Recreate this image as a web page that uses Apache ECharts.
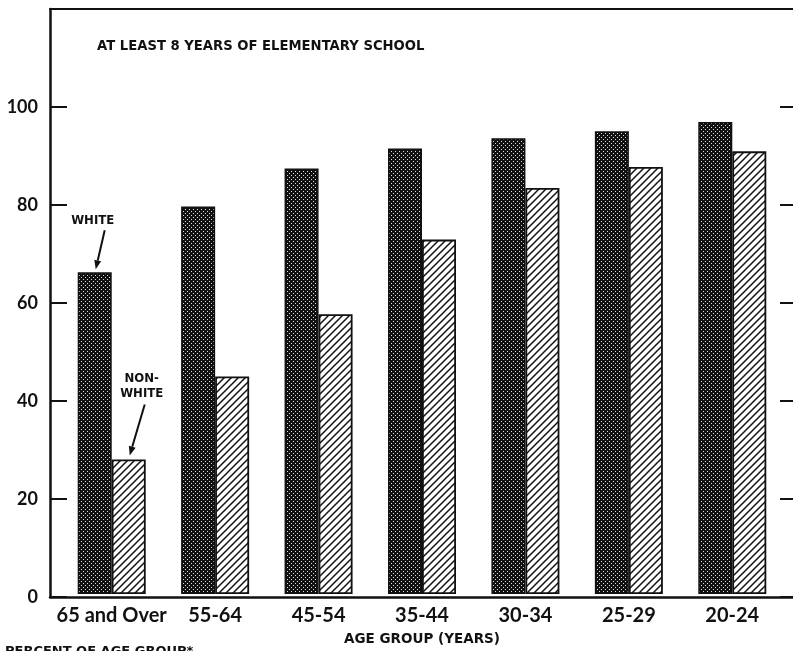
<!DOCTYPE html>
<html><head><meta charset="utf-8">
<script src="https://cdn.jsdelivr.net/npm/echarts@6/dist/echarts.min.js"></script>
<style>html,body{margin:0;padding:0;background:#fff}#c{width:793px;height:651px}</style>
</head><body><div id="c"></div>
<script>
const categories = ['65 and Over', '55-64', '45-54', '35-44', '30-34', '25-29', '20-24'];
const whiteValues = [66.0, 79.5, 87.3, 91.4, 93.5, 94.9, 96.8];
const nonWhiteValues = [27.6, 44.6, 57.4, 72.7, 83.3, 87.6, 90.8];
const yTicks = [0, 20, 40, 60, 80, 100];
const titleText = 'AT LEAST 8 YEARS OF ELEMENTARY SCHOOL';
const xName = 'AGE GROUP (YEARS)';
const yName = 'PERCENT OF AGE GROUP*';

function stipple() {
  const c = document.createElement('canvas'); c.width = 4; c.height = 4;
  const g = c.getContext('2d');
  g.fillStyle = '#111'; g.fillRect(0, 0, 4, 4);
  g.fillStyle = '#ddd'; g.fillRect(1, 1, 1, 1); g.fillRect(3, 3, 1, 1);
  return c;
}
function hatch() {
  const s = 7;
  const c = document.createElement('canvas'); c.width = s; c.height = s;
  const g = c.getContext('2d');
  g.fillStyle = '#fff'; g.fillRect(0, 0, s, s);
  g.strokeStyle = '#111'; g.lineWidth = 1.5;
  for (const o of [-s, 0, s]) {
    g.beginPath(); g.moveTo(o - 1, s + 1); g.lineTo(o + s + 1, -1); g.stroke();
  }
  return c;
}

const chart = echarts.init(document.getElementById('c'), null, {renderer: 'canvas'});
const labelFont = 'Lato';
chart.setOption({
  animation: false,
  backgroundColor: '#fff',
  grid: [
    {left: 50, right: 0, top: 9, bottom: 54},
    {left: 60, right: 9, top: 9, bottom: 54}
  ],
  xAxis: [
    {gridIndex: 0, type: 'value', min: 0, max: 1, position: 'bottom',
     axisLine: {show: true, onZero: false, lineStyle: {color: '#111', width: 2.5}}, axisTick: {show: false},
     axisLabel: {show: false}, splitLine: {show: false}},
    {gridIndex: 0, type: 'value', min: 0, max: 1, position: 'top',
     axisLine: {show: true, onZero: false, lineStyle: {color: '#111', width: 2}}, axisTick: {show: false},
     axisLabel: {show: false}, splitLine: {show: false}},
    {gridIndex: 1, type: 'category', data: categories,
     axisLine: {show: false}, axisTick: {show: false},
     axisLabel: {color: '#111', fontFamily: labelFont, fontWeight: 'bold', fontSize: 20, margin: 12, interval: 0},
     name: xName, nameLocation: 'middle', nameGap: 38,
     nameTextStyle: {color: '#111', fontFamily: 'DejaVu Sans', fontWeight: 'bold', fontSize: 13.5}}
  ],
  yAxis: [
    {gridIndex: 0, type: 'value', min: 0, max: 120, interval: 20, position: 'left',
     axisLine: {show: true, onZero: false, lineStyle: {color: '#111', width: 2.5}},
     axisTick: {show: true, inside: true, length: 17, lineStyle: {color: '#111', width: 2}},
     axisLabel: {color: '#111', fontFamily: labelFont, fontWeight: 'bold', fontSize: 18, margin: 12,
       formatter: v => yTicks.indexOf(v) >= 0 ? String(v) : ''},
     splitLine: {show: false}},
    {gridIndex: 0, type: 'value', min: 0, max: 120, interval: 20, position: 'right',
     axisLine: {show: false, onZero: false},
     axisTick: {show: true, inside: true, length: 13, lineStyle: {color: '#111', width: 2}},
     axisLabel: {show: false}, splitLine: {show: false}},
    {gridIndex: 1, type: 'value', min: 0, max: 120, show: false}
  ],
  series: [
    {type: 'bar', name: 'WHITE', xAxisIndex: 2, yAxisIndex: 2, data: whiteValues,
     barWidth: 34, barGap: '0%',
     itemStyle: {color: {image: stipple(), repeat: 'repeat'}, borderColor: '#111', borderWidth: 1.5}},
    {type: 'bar', name: 'NON-WHITE', xAxisIndex: 2, yAxisIndex: 2, data: nonWhiteValues,
     barWidth: 34, barGap: '0%',
     itemStyle: {color: {image: hatch(), repeat: 'repeat'}, borderColor: '#111', borderWidth: 1.8}}
  ]
});

function arrow(x1, y1, x2, y2) {
  const a = Math.atan2(y2 - y1, x2 - x1), L = 9, W = 3.5;
  const bx = x2 - L * Math.cos(a), by = y2 - L * Math.sin(a);
  const px = -Math.sin(a) * W, py = Math.cos(a) * W;
  return [
    {type: 'line', shape: {x1: x1, y1: y1, x2: bx, y2: by}, style: {stroke: '#111', lineWidth: 2}},
    {type: 'polygon', shape: {points: [[x2, y2], [bx + px, by + py], [bx - px, by - py]]}, style: {fill: '#111'}}
  ];
}
const annFont = {fontFamily: 'DejaVu Sans Condensed', fontWeight: 'bold', fontSize: 13, fill: '#111'};
const pW = chart.convertToPixel({xAxisIndex: 2, yAxisIndex: 2}, [0, whiteValues[0]]);
const pN = chart.convertToPixel({xAxisIndex: 2, yAxisIndex: 2}, [0, nonWhiteValues[0]]);
const wx = pW[0] - 17, wy = pW[1];
const nx = pN[0] + 17, ny = pN[1];
chart.setOption({
  graphic: [
    {type: 'text', left: 97, top: 40, style: {text: titleText, fontFamily: 'DejaVu Sans', fontWeight: 'bold', fontSize: 13.2, fill: '#111'}},
    {type: 'text', left: 5, top: 645, style: {text: yName, fontFamily: 'DejaVu Sans', fontWeight: 'bold', fontSize: 13, fill: '#111'}},
    {type: 'text', x: wx - 2, y: wy - 52, style: Object.assign({text: 'WHITE', align: 'center', verticalAlign: 'middle'}, annFont)},
    ...arrow(wx + 10, wy - 42, wx + 1, wy - 3),
    {type: 'text', x: nx + 13, y: ny - 81, style: Object.assign({text: 'NON-', align: 'center', verticalAlign: 'middle'}, annFont)},
    {type: 'text', x: nx + 13, y: ny - 66, style: Object.assign({text: 'WHITE', align: 'center', verticalAlign: 'middle'}, annFont)},
    ...arrow(nx + 16, ny - 55, nx + 1, ny - 4)
  ]
});
</script></body></html>
